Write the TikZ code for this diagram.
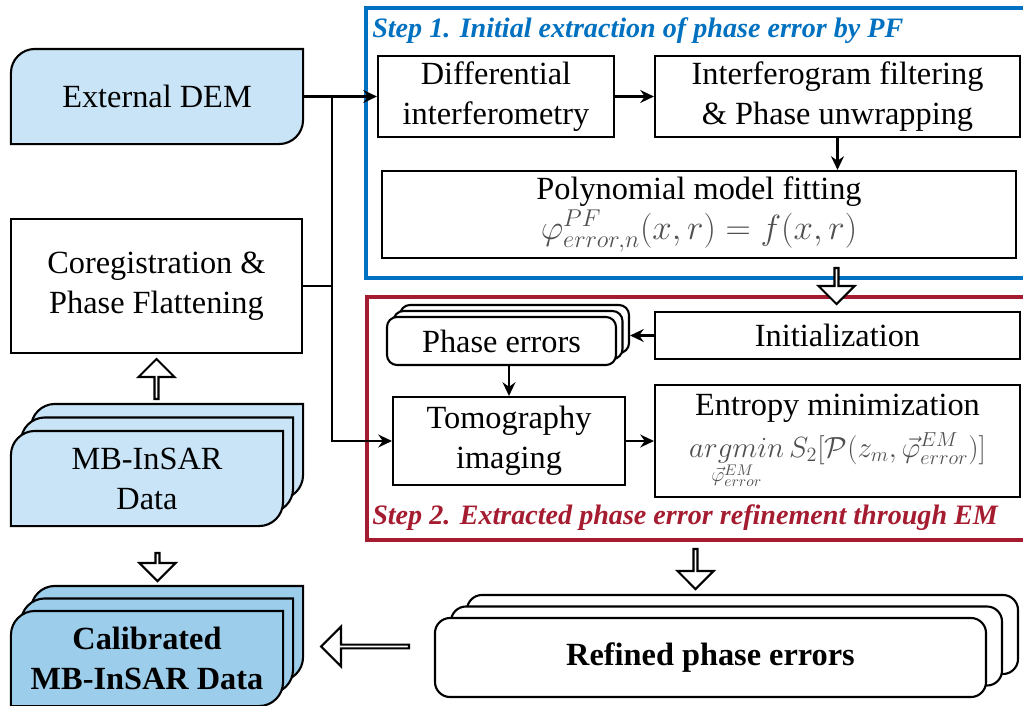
\documentclass[tikz,border=0pt]{standalone}
\usepackage{fontspec}
\setmainfont{Liberation Serif}
\usetikzlibrary{arrows.meta,shapes.arrows,backgrounds}

\definecolor{docblue}{RGB}{200,228,246}
\definecolor{calibblue}{RGB}{156,206,236}
\definecolor{stepblue}{RGB}{0,112,192}
\definecolor{stepred}{RGB}{165,28,48}
\definecolor{mathgray}{RGB}{80,80,80}

% data shape: rounded top-left and bottom-right corners, shifted by (#2,#3)
\newcommand{\docshape}[4]{%
  \draw[line width=1.5pt, fill=#4]
    ([xshift=#2,yshift=#3-6mm]#1.north west) -- ([xshift=#2,yshift=#3]#1.south west)
    -- ([xshift=#2-6mm,yshift=#3]#1.south east) arc[start angle=-90,end angle=0,radius=6mm]
    -- ([xshift=#2,yshift=#3]#1.north east)
    -- ([xshift=#2+6mm,yshift=#3]#1.north west) arc[start angle=90,end angle=180,radius=6mm]
    -- cycle;}

\tikzset{
  box/.style={draw, line width=1.5pt, fill=white, align=center, inner sep=0pt,
    font=\fontsize{23}{28.5}\selectfont},
  doc/.style={box, draw=none, fill=none},
  layer/.style={box, rounded corners=2.5mm},
  frame/.style={line width=2.4pt},
  steptitle/.style={anchor=west, inner sep=0pt, font=\fontsize{20}{23}\selectfont\bfseries\itshape},
  flow/.style={line width=1.8pt, -{Stealth[length=3.4mm,width=3.2mm]}},
  link/.style={line width=1.8pt},
  hollow/.style={single arrow, draw, fill=white, line width=1.5pt, inner sep=0pt,
    minimum width=9mm, single arrow head extend=2.1mm},
}

\begin{document}
\begin{tikzpicture}[x=0.25mm, y=-0.25mm]
\useasboundingbox (0,0) rectangle (1023,705);

% Left column
\node[doc, minimum width=72.5mm, minimum height=23.25mm] (dem) at (157,96.5) {External DEM};
\node[box, minimum width=72.75mm, minimum height=33.5mm] (coreg) at (156.5,286) {Coregistration \&\\Phase Flattening};
\node[doc, minimum width=67.5mm, minimum height=23.25mm] (mbdata) at (147,478.5) {MB-InSAR\\Data};
\node[doc, minimum width=67.5mm, minimum height=23.25mm,
  font=\fontsize{23}{28.5}\selectfont\bfseries] (calib) at (147,658.5) {Calibrated\\MB-InSAR Data};

\begin{scope}[on background layer]
  \docshape{dem}{0mm}{0mm}{docblue}
  \docshape{mbdata}{5mm}{6.75mm}{docblue}
  \docshape{mbdata}{2.5mm}{3.375mm}{docblue}
  \docshape{mbdata}{0mm}{0mm}{docblue}
  \docshape{calib}{5mm}{6.25mm}{calibblue}
  \docshape{calib}{2.5mm}{3.125mm}{calibblue}
  \docshape{calib}{0mm}{0mm}{calibblue}
\end{scope}

% Step 1
\draw[frame, stepblue] (366,8) rectangle (1035,278);
\node[steptitle, text=stepblue] (title1) at (372,31) {Step 1. Initial extraction of phase error by PF};
\node[box, minimum width=59mm, minimum height=20.25mm] (diff) at (496,96.5) {Differential\\interferometry};
\node[box, minimum width=91.25mm, minimum height=20.25mm] (interf) at (837.5,96.5) {Interferogram filtering\\\& Phase unwrapping};
\node[box, minimum width=158.5mm, minimum height=21.75mm] (poly) at (699,214.5)
  {Polynomial model fitting\\{\color{mathgray}$\varphi^{PF}_{error,n}(x,r)=f(x,r)$}};

% Step 2
\draw[frame, stepred] (367,297) rectangle (1035,540);
\node[steptitle, text=stepred] (title2) at (372,518) {Step 2. Extracted phase error refinement through EM};
\node[layer, minimum width=57.25mm, minimum height=12mm] (phase3) at (514.5,329) {};
\node[layer, minimum width=57.25mm, minimum height=12mm] (phase2) at (508,335) {};
\node[layer, minimum width=57.25mm, minimum height=12mm] (phase) at (501.5,341) {Phase errors};
\node[box, minimum width=91.25mm, minimum height=28mm] (entropy) at (837.5,441)
  {Entropy minimization\\[1pt]{\fontsize{21}{25}\selectfont\color{mathgray}$\mathop{argmin}\limits_{\vec{\varphi}^{EM}_{error}} S_2[\mathcal{P}(z_m,\vec{\varphi}^{EM}_{error})]$}};
\node[box, minimum width=91.25mm, minimum height=11.75mm] (init) at (837.5,335.5) {Initialization};
\node[box, minimum width=58mm, minimum height=22mm] (tomo) at (509,441) {Tomography\\imaging};

% Output stack
\node[layer, rounded corners=3.75mm, minimum width=137.75mm, minimum height=19.75mm] (refined3) at (742.5,634.5) {};
\node[layer, rounded corners=3.75mm, minimum width=137.75mm, minimum height=19.75mm] (refined2) at (726.5,646) {};
\node[layer, rounded corners=3.75mm, minimum width=137.75mm, minimum height=19.75mm,
  font=\fontsize{23}{28.5}\selectfont\bfseries] (refined) at (710.5,657.5) {Refined phase errors};

% Connectors
\coordinate (trunk) at (332,96.5);
\draw[flow] (dem.east) -- (diff.west);
\draw[link] (coreg.east) -- (coreg.east -| trunk);
\draw[flow] (trunk) |- (tomo.west);
\draw[flow] (diff) -- (interf);
\draw[flow] (interf.south) -- (interf.south |- poly.north);
\draw[flow] (init.west) -- (init.west -| phase3.east);
\draw[flow] (tomo.north |- phase.south) -- (tomo.north);
\draw[flow] (tomo) -- (entropy);

% Hollow arrows
\node[hollow, minimum height=9mm, shape border rotate=270] (down1) at (836.5,285) {};
\node[hollow, minimum height=10mm, shape border rotate=270] (down2) at (695.5,568) {};
\node[hollow, minimum height=10mm, shape border rotate=90] (up1) at (156.5,380) {};
\node[hollow, minimum height=7mm, shape border rotate=270] (down3) at (157.5,566) {};
\node[hollow, minimum height=22mm, minimum width=10mm, single arrow head extend=2.5mm,
  shape border rotate=180] (left1) at (366,646.5) {};
\end{tikzpicture}
\end{document}
